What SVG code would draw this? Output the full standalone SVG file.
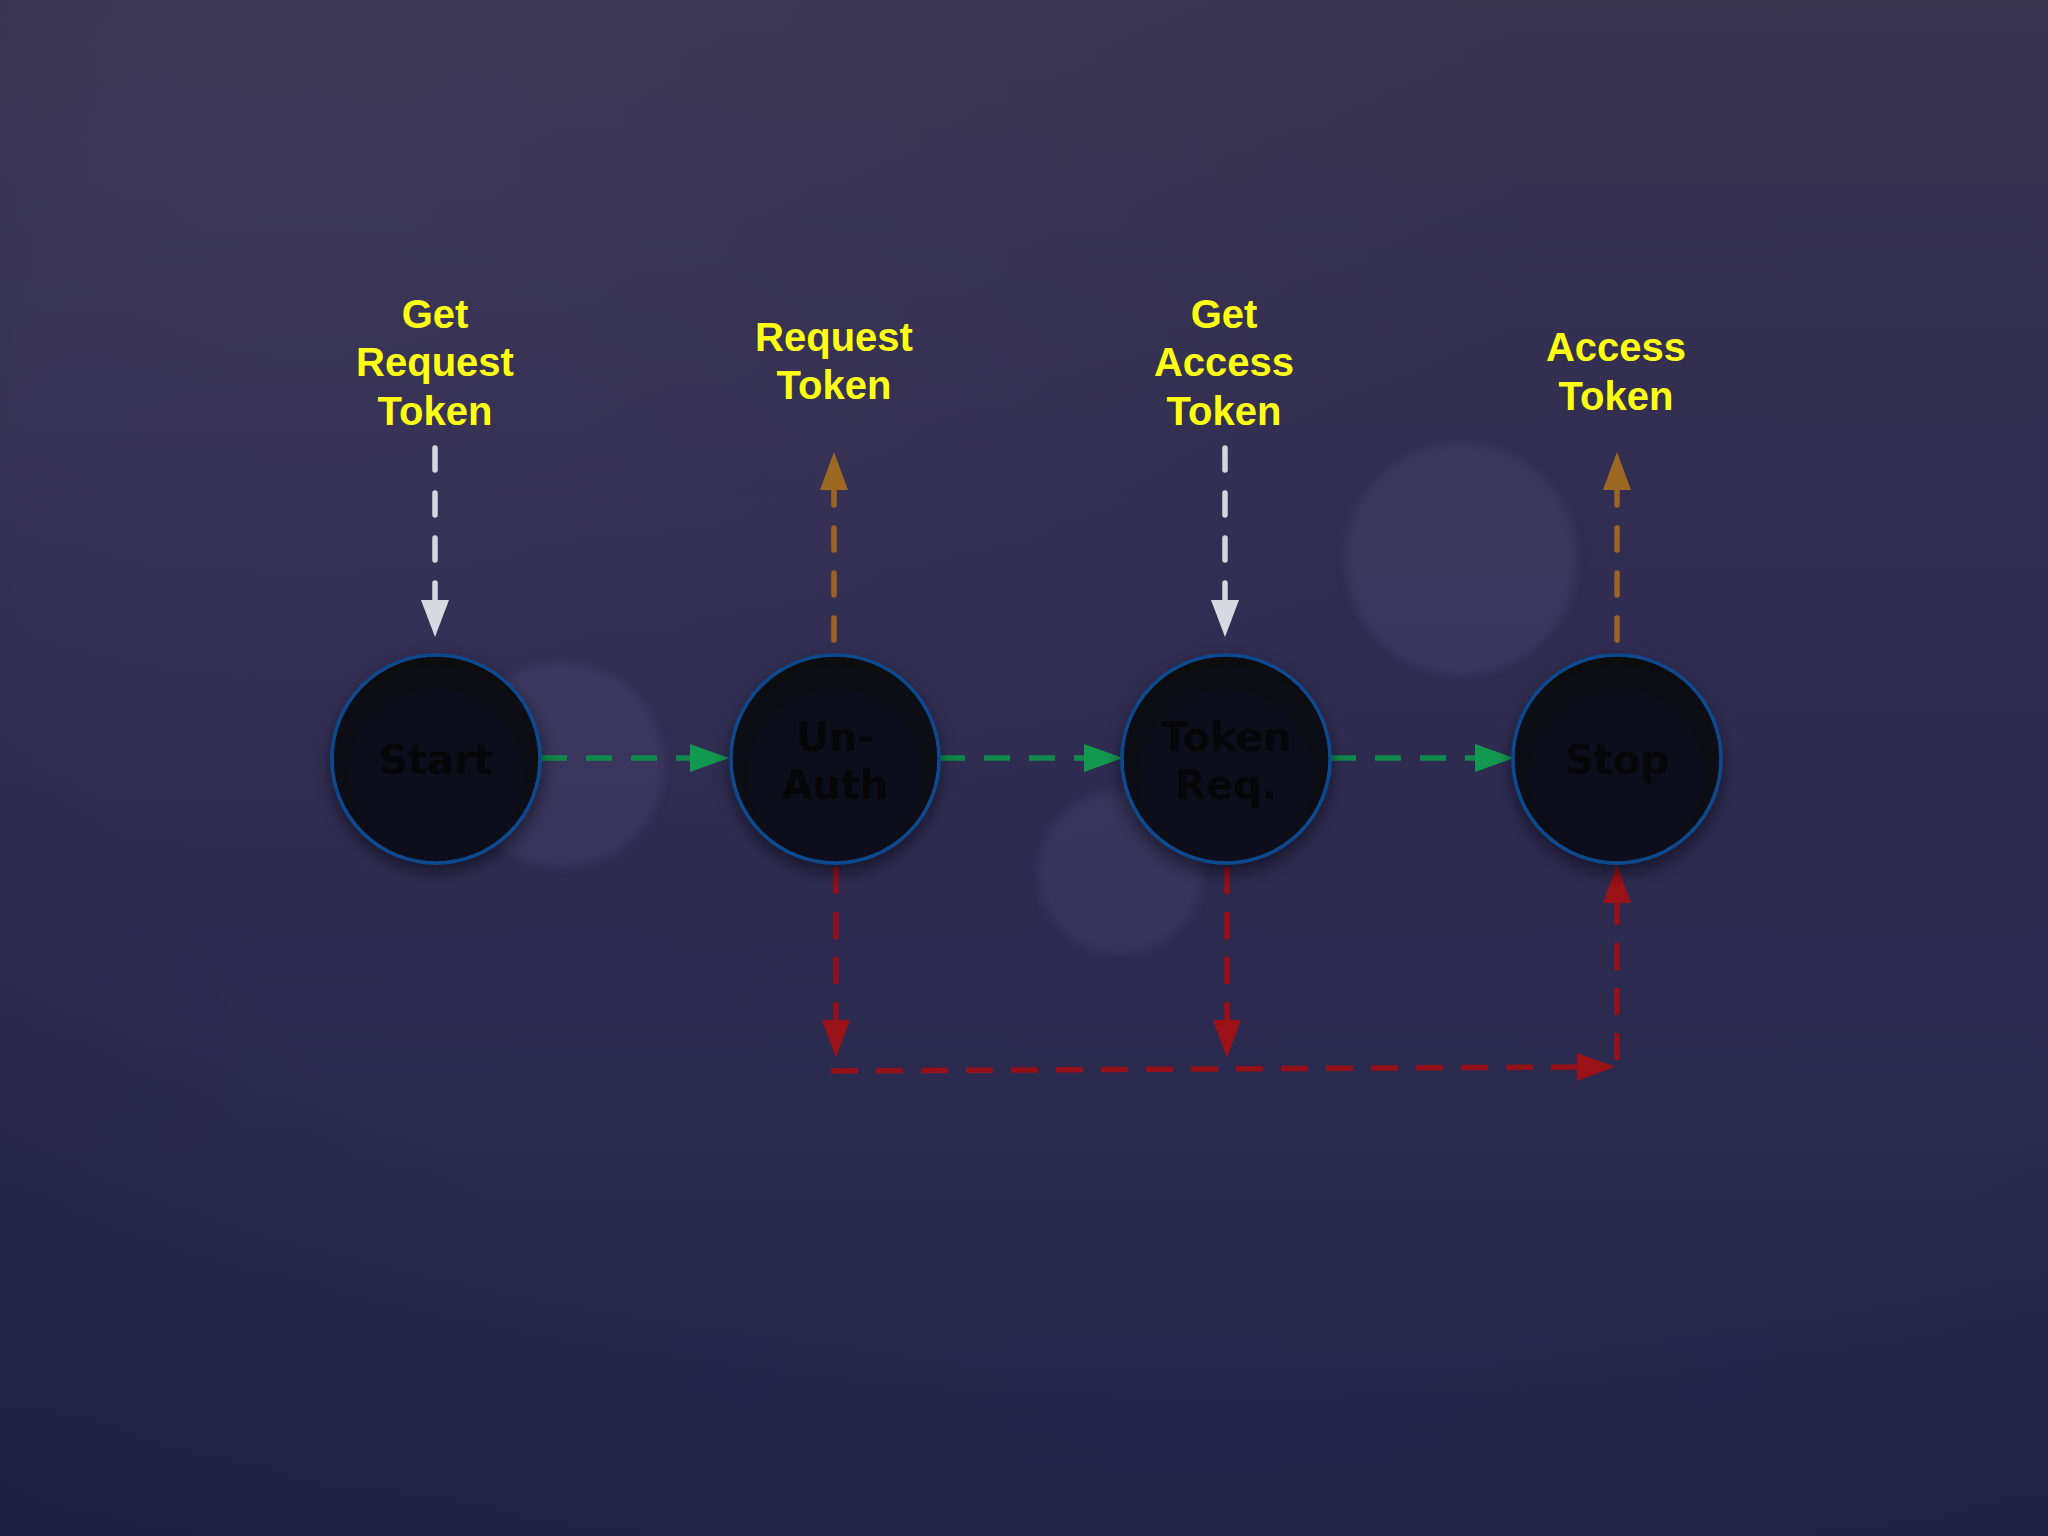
<svg xmlns="http://www.w3.org/2000/svg" width="2048" height="1536" viewBox="0 0 2048 1536">
  <defs>
    <linearGradient id="bg" x1="0" y1="0" x2="0" y2="1">
      <stop offset="0" stop-color="#38334f"/>
      <stop offset="0.45" stop-color="#302c52"/>
      <stop offset="0.8" stop-color="#28284d"/>
      <stop offset="1" stop-color="#24244a"/>
    </linearGradient>
    <radialGradient id="vig" cx="0.6" cy="0.3" r="0.9">
      <stop offset="0.65" stop-color="#10102a" stop-opacity="0"/>
      <stop offset="1" stop-color="#10102a" stop-opacity="0.22"/>
    </radialGradient>
    <radialGradient id="glow" cx="0.15" cy="0.1" r="0.6">
      <stop offset="0" stop-color="#4a4468" stop-opacity="0.28"/>
      <stop offset="1" stop-color="#4a4468" stop-opacity="0"/>
    </radialGradient>
    <radialGradient id="nodeFill" cx="0.5" cy="0.58" r="0.6">
      <stop offset="0" stop-color="#0f0e1e"/>
      <stop offset="0.65" stop-color="#0d0c1b"/>
      <stop offset="0.95" stop-color="#08070f"/>
    </radialGradient>
    <filter id="shadow" x="-30%" y="-30%" width="160%" height="170%">
      <feDropShadow dx="0" dy="8" stdDeviation="9" flood-color="#000" flood-opacity="0.5"/>
    </filter>
    <filter id="soft" x="-30%" y="-30%" width="160%" height="160%">
      <feGaussianBlur stdDeviation="4"/>
    </filter>
    <marker id="ahWhite" markerUnits="userSpaceOnUse" markerWidth="40" markerHeight="30" refX="0" refY="14" orient="auto">
      <path d="M0,0 L37,14 L0,28 z" fill="#d9d9e2"/>
    </marker>
    <marker id="ahOrange" markerUnits="userSpaceOnUse" markerWidth="40" markerHeight="30" refX="0" refY="14" orient="auto">
      <path d="M0,0 L38,14 L0,28 z" fill="#9c6822"/>
    </marker>
    <marker id="ahGreen" markerUnits="userSpaceOnUse" markerWidth="40" markerHeight="30" refX="0" refY="14" orient="auto">
      <path d="M0,0 L39,14 L0,28 z" fill="#13994f"/>
    </marker>
    <marker id="ahRed" markerUnits="userSpaceOnUse" markerWidth="40" markerHeight="30" refX="0" refY="14" orient="auto">
      <path d="M0,0 L38,14 L0,28 z" fill="#9a1218"/>
    </marker>
    <style>
      .lbl { font-family: "Liberation Sans", Arial, sans-serif; font-weight: bold; font-size: 40px; fill: #ffff14; text-anchor: middle; }
      .ntx { font-family: "DejaVu Sans", "Liberation Sans", sans-serif; font-weight: bold; font-size: 40px; fill: #060609; text-anchor: middle; }
      .node { fill: url(#nodeFill); stroke: #0c4a8e; stroke-width: 3.5; filter: url(#shadow); }
      .c { fill: none; stroke-width: 5.5; }
      .w { stroke: #d6d6e0; stroke-dasharray: 22 23; stroke-linecap: round; }
      .o { stroke: #9a6524; stroke-dasharray: 22 23; stroke-linecap: round; }
      .g { stroke: #10894a; stroke-dasharray: 26 19; }
      .r { stroke: #94111a; stroke-dasharray: 27 18; }
      .bokeh { fill: #4a4570; opacity: 0.35; filter: url(#soft); }
    </style>
  </defs>

  <g id="background">
    <rect width="2048" height="1536" fill="url(#bg)"/>
    <rect width="2048" height="1536" fill="url(#glow)"/>
    <rect width="2048" height="1536" fill="url(#vig)"/>
    <circle class="bokeh" cx="1461" cy="559" r="116"/>
    <circle class="bokeh" cx="562" cy="765" r="102"/>
    <circle class="bokeh" cx="1120" cy="873" r="82"/>
  </g>

  <g id="connectors">
    <path class="c w" d="M435,448 L435,600" marker-end="url(#ahWhite)"/>
    <path class="c w" d="M1225,448 L1225,600" marker-end="url(#ahWhite)"/>
    <path class="c o" d="M834,640 L834,490" marker-end="url(#ahOrange)"/>
    <path class="c o" d="M1617,640 L1617,490" marker-end="url(#ahOrange)"/>
    <path class="c g" d="M541,758 L690,758" marker-end="url(#ahGreen)"/>
    <path class="c g" d="M939,758 L1084,758" marker-end="url(#ahGreen)"/>
    <path class="c g" d="M1330,758 L1475,758" marker-end="url(#ahGreen)"/>
    <path class="c r" d="M836,867 L836,1020" marker-end="url(#ahRed)"/>
    <path class="c r" d="M1227,867 L1227,1020" marker-end="url(#ahRed)"/>
    <path class="c r" d="M831,1071 L1577,1067" marker-end="url(#ahRed)"/>
    <path class="c r" d="M1617,1060 L1617,903" marker-end="url(#ahRed)"/>
  </g>

  <g id="label-get-request-token">
    <text class="lbl" x="435" y="328">Get</text>
    <text class="lbl" x="435" y="376">Request</text>
    <text class="lbl" x="435" y="425">Token</text>
  </g>
  <g id="label-request-token">
    <text class="lbl" x="834" y="351">Request</text>
    <text class="lbl" x="834" y="399">Token</text>
  </g>
  <g id="label-get-access-token">
    <text class="lbl" x="1224" y="328">Get</text>
    <text class="lbl" x="1224" y="376">Access</text>
    <text class="lbl" x="1224" y="425">Token</text>
  </g>
  <g id="label-access-token">
    <text class="lbl" x="1616" y="361">Access</text>
    <text class="lbl" x="1616" y="410">Token</text>
  </g>

  <g id="node-start">
    <circle class="node" cx="436" cy="759" r="104"/>
    <text class="ntx" x="436" y="774">Start</text>
  </g>
  <g id="node-unauth">
    <circle class="node" cx="835" cy="759" r="104"/>
    <text class="ntx" x="835" y="751">Un-</text>
    <text class="ntx" x="835" y="799">Auth</text>
  </g>
  <g id="node-tokenreq">
    <circle class="node" cx="1226" cy="759" r="104"/>
    <text class="ntx" x="1226" y="751">Token</text>
    <text class="ntx" x="1226" y="799">Req.</text>
  </g>
  <g id="node-stop">
    <circle class="node" cx="1617" cy="759" r="104"/>
    <text class="ntx" x="1617" y="774">Stop</text>
  </g>
</svg>
